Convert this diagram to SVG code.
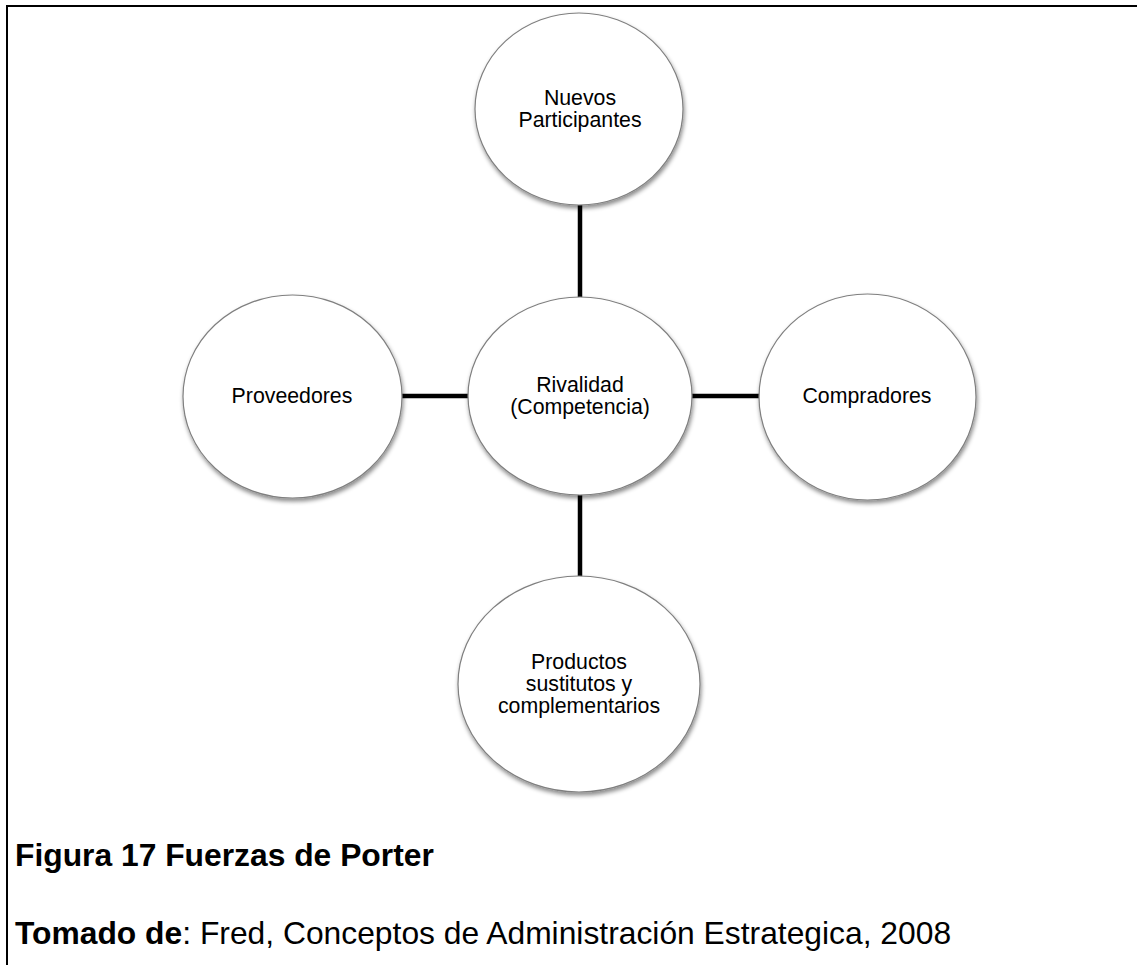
<svg xmlns="http://www.w3.org/2000/svg" width="1137" height="965" viewBox="0 0 1137 965">
<defs>
<filter id="sh" x="-10%" y="-10%" width="125%" height="130%">
<feDropShadow dx="1" dy="3" stdDeviation="2.2" flood-color="#000" flood-opacity="0.45"/>
</filter>
<style>
.node ellipse{fill:#fff;stroke:#7f7f7f;stroke-width:1.2;filter:url(#sh)}
.node text{font-family:"Liberation Sans",Arial,sans-serif;font-size:21.3px;fill:#000;text-anchor:middle}
.conn line{stroke:#000;stroke-width:4.5}
.cap{font-family:"Liberation Sans",Arial,sans-serif;font-size:31.8px;fill:#000}
</style>
</defs>
<rect width="1137" height="965" fill="#fff"/>
<g id="frame" stroke="#000" stroke-width="2" fill="none">
<line x1="7" y1="6" x2="1137" y2="6"/>
<line x1="7" y1="5" x2="7" y2="965"/>
</g>
<g id="connectors" class="conn">
<line x1="580" y1="203" x2="580" y2="299"/>
<line x1="580" y1="493" x2="580" y2="578"/>
<line x1="400" y1="396" x2="470" y2="396"/>
<line x1="690" y1="396" x2="761" y2="396"/>
</g>
<g id="nuevos" class="node">
<ellipse cx="579" cy="109" rx="104" ry="96"/>
<text x="580" y="105">Nuevos</text>
<text x="580" y="127">Participantes</text>
</g>
<g id="rivalidad" class="node">
<ellipse cx="580" cy="396" rx="112" ry="99"/>
<text x="580" y="392">Rivalidad</text>
<text x="580" y="414">(Competencia)</text>
</g>
<g id="proveedores" class="node">
<ellipse cx="292.5" cy="396.5" rx="109.5" ry="101.5"/>
<text x="292" y="403">Proveedores</text>
</g>
<g id="compradores" class="node">
<ellipse cx="867.5" cy="397" rx="108.5" ry="103"/>
<text x="867" y="403">Compradores</text>
</g>
<g id="productos" class="node">
<ellipse cx="579" cy="684" rx="121" ry="108"/>
<text x="579" y="669">Productos</text>
<text x="579" y="691">sustitutos y</text>
<text x="579" y="713">complementarios</text>
</g>
<g id="caption">
<text class="cap" x="15" y="866" font-weight="bold">Figura 17 Fuerzas de Porter</text>
<text class="cap" x="15" y="944"><tspan font-weight="bold">Tomado de</tspan>: Fred, Conceptos de Administración Estrategica, 2008</text>
</g>
</svg>
